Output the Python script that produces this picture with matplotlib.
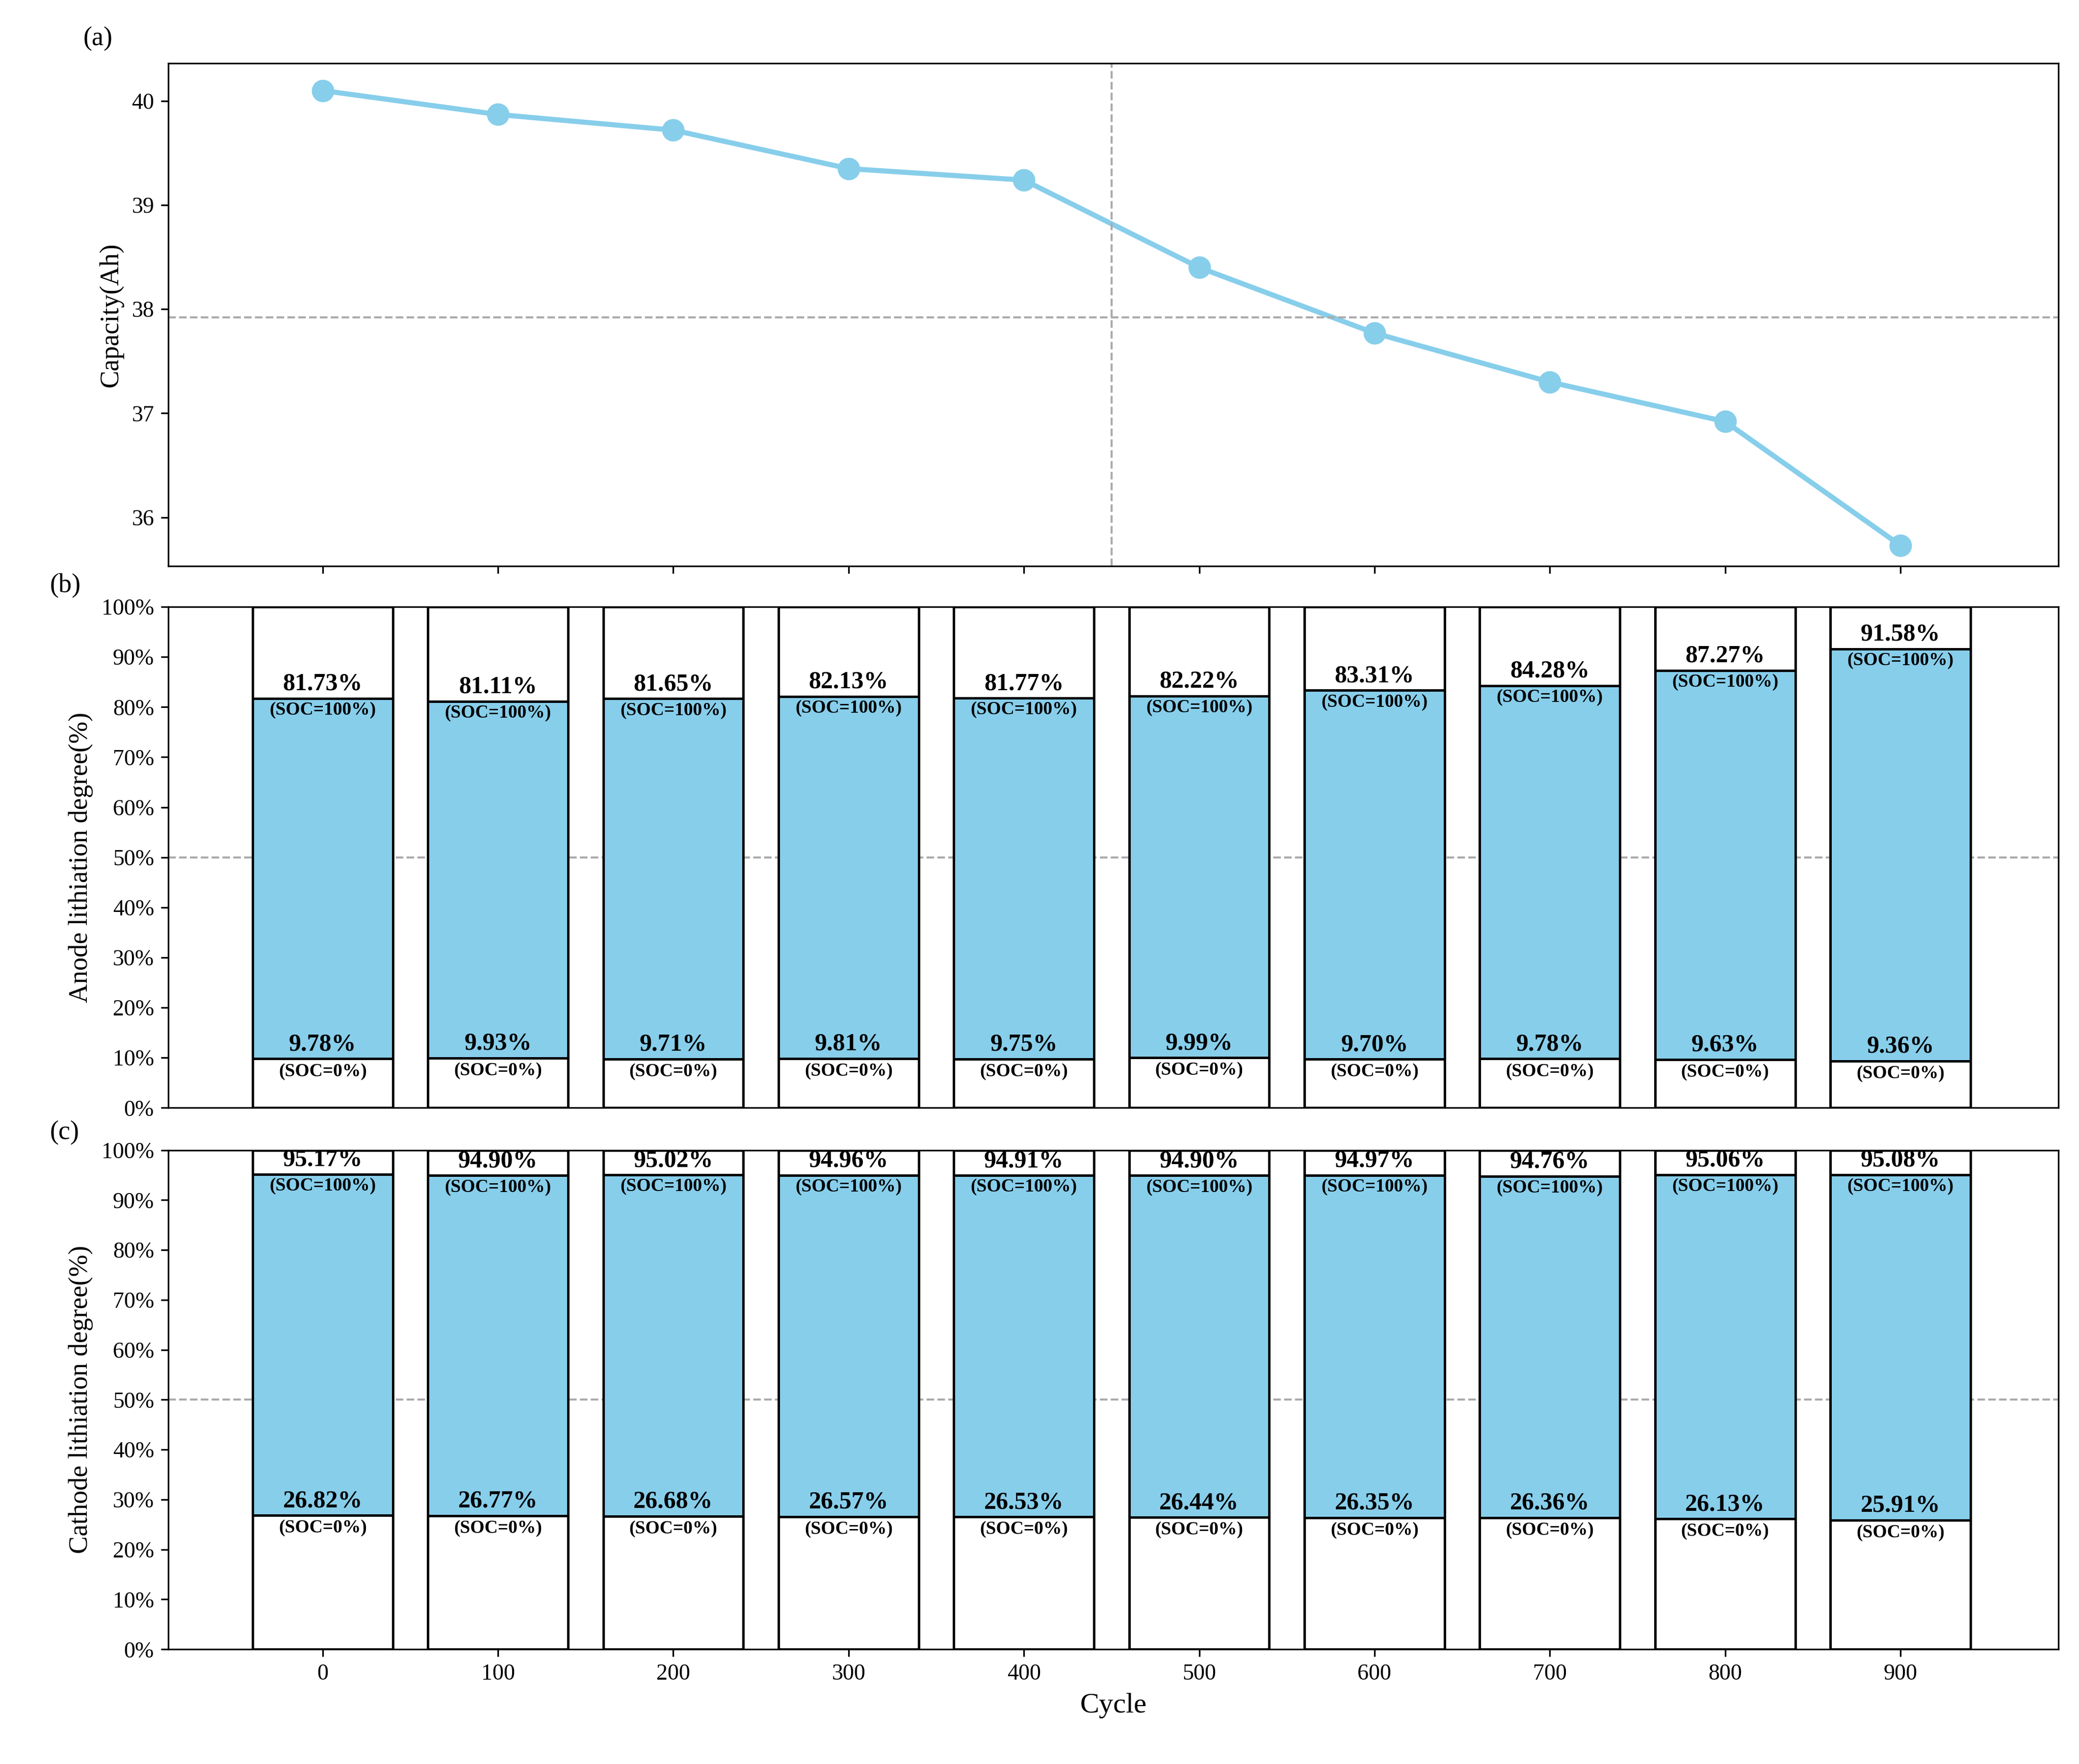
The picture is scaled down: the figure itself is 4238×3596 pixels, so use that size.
import matplotlib
matplotlib.use("Agg")
import matplotlib.pyplot as plt
from matplotlib.ticker import PercentFormatter

plt.rcParams["font.family"] = "Liberation Serif"

cycles = [0, 100, 200, 300, 400, 500, 600, 700, 800, 900]
capacity = [40.10, 39.87, 39.72, 39.35, 39.24, 38.40, 37.77, 37.30, 36.92, 35.73]
anode_high = [81.73, 81.11, 81.65, 82.13, 81.77, 82.22, 83.31, 84.28, 87.27, 91.58]
anode_low = [9.78, 9.93, 9.71, 9.81, 9.75, 9.99, 9.70, 9.78, 9.63, 9.36]
cathode_high = [95.17, 94.90, 95.02, 94.96, 94.91, 94.90, 94.97, 94.76, 95.06, 95.08]
cathode_low = [26.82, 26.77, 26.68, 26.57, 26.53, 26.44, 26.35, 26.36, 26.13, 25.91]

blue = "#87CEEB"
W, H = 4238, 3596
fig = plt.figure(figsize=(W/300, H/300), dpi=300)
L, R = 0.081, 0.99
axa = fig.add_axes([L, 0.679, R-L, 0.964-0.679])
axb = fig.add_axes([L, 0.372, R-L, 0.656-0.372])
axc = fig.add_axes([L, 0.065, R-L, 0.348-0.065])
xlim = (-88, 990)

axa.plot(cycles, capacity, color=blue, lw=2.5, marker="o", ms=10)
axa.axhline(37.92, color="#aaaaaa", ls="--", lw=1)
axa.axvline(450, color="#aaaaaa", ls="--", lw=1)
axa.set_xlim(*xlim)
axa.set_ylim(35.53, 40.36)
axa.set_xticks(cycles)
axa.set_xticklabels([])
axa.set_ylabel("Capacity(Ah)", fontsize=13)
axa.tick_params(labelsize=11)

def bars(ax, lows, highs, ylabel):
    w = 80
    for c, lo, hi in zip(cycles, lows, highs):
        ax.bar(c, lo, width=w, color="white", edgecolor="black", lw=1.2)
        ax.bar(c, hi-lo, bottom=lo, width=w, color=blue, edgecolor="black", lw=1.2)
        ax.bar(c, 100-hi, bottom=hi, width=w, color="white", edgecolor="black", lw=1.2)
        ax.text(c, hi+0.6, f"{hi:.2f}%", ha="center", va="bottom", fontsize=12, fontweight="bold")
        ax.text(c, hi-0.6, "(SOC=100%)", ha="center", va="top", fontsize=9, fontweight="bold")
        ax.text(c, lo+0.6, f"{lo:.2f}%", ha="center", va="bottom", fontsize=12, fontweight="bold")
        ax.text(c, lo-0.8, "(SOC=0%)", ha="center", va="top", fontsize=9, fontweight="bold")
    ax.axhline(50, color="#aaaaaa", ls="--", lw=1, zorder=0)
    ax.set_xlim(*xlim)
    ax.set_ylim(0, 100)
    ax.set_yticks(range(0, 101, 10))
    ax.yaxis.set_major_formatter(PercentFormatter(decimals=0))
    ax.set_xticks(cycles)
    ax.set_ylabel(ylabel, fontsize=13)
    ax.tick_params(labelsize=11)

bars(axb, anode_low, anode_high, "Anode lithiation degree(%)")
axb.tick_params(axis="x", bottom=False, labelbottom=False)
bars(axc, cathode_low, cathode_high, "Cathode lithiation degree(%)")
axc.set_xticklabels([str(c) for c in cycles])
axc.set_xlabel("Cycle", fontsize=14)

fig.text(0.040, 0.978, "(a)", fontsize=13, va="center")
fig.text(0.024, 0.668, "(b)", fontsize=13, va="center")
fig.text(0.024, 0.358, "(c)", fontsize=13, va="center")

fig.savefig("out.png", dpi=300)
